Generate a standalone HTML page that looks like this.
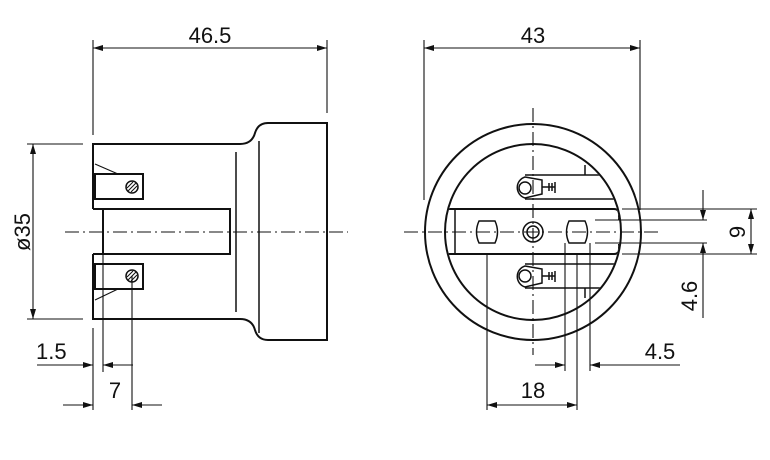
<!DOCTYPE html>
<html><head><style>body{margin:0;background:#fff}svg{display:block}text{font-family:"Liberation Sans",Arial,sans-serif;font-size:22px;fill:#111}</style></head><body>
<svg width="770" height="460" viewBox="0 0 770 460" xmlns="http://www.w3.org/2000/svg">
<defs>
<marker id="a" viewBox="0 0 10 6" refX="10" refY="3" markerWidth="10" markerHeight="6" orient="auto-start-reverse" markerUnits="userSpaceOnUse"><path d="M0,0L10,3L0,6z" fill="#111"/></marker>
<clipPath id="c"><circle cx="533" cy="232" r="87"/></clipPath>
</defs>
<g fill="none" stroke="#111" stroke-width="1.1">
<g stroke-width="2">
<path d="M93,209V144H240Q252,144 255,133Q258,123 268,123H327V340H268Q258,340 255,330Q252,319 240,319H93V254"/>
<path d="M93,209H230V254H93"/>
<rect x="95" y="174" width="48" height="25"/>
<rect x="95" y="264" width="48" height="25"/>
</g>
<line x1="103" y1="209" x2="103" y2="254" stroke-width="2"/>
<line x1="236" y1="152" x2="236" y2="312" stroke-width="1.5"/>
<line x1="259" y1="141" x2="259" y2="333" stroke-width="1.5"/>
<line x1="95" y1="164" x2="118" y2="174"/>
<line x1="95" y1="300" x2="118" y2="289"/>
<circle cx="132" cy="187" r="6" stroke-width="1.5"/><line x1="128" y1="191" x2="136" y2="183"/><line x1="127" y1="188" x2="133" y2="182"/><line x1="131" y1="192" x2="137" y2="186"/>
<circle cx="132" cy="276" r="6" stroke-width="1.5"/><line x1="128" y1="280" x2="136" y2="272"/><line x1="127" y1="277" x2="133" y2="271"/><line x1="131" y1="281" x2="137" y2="275"/>
<line x1="65" y1="232" x2="348" y2="232" stroke-dasharray="14,4,2,4"/>
<line x1="93" y1="40" x2="93" y2="135"/><line x1="327" y1="40" x2="327" y2="113"/>
<line x1="93" y1="48" x2="327" y2="48" marker-start="url(#a)" marker-end="url(#a)"/>
<line x1="27" y1="144" x2="83" y2="144"/><line x1="27" y1="319" x2="83" y2="319"/>
<line x1="33" y1="144" x2="33" y2="319" marker-start="url(#a)" marker-end="url(#a)"/>
<line x1="93" y1="328" x2="93" y2="410"/><line x1="103" y1="254" x2="103" y2="372"/><line x1="132" y1="276" x2="132" y2="410"/>
<line x1="37" y1="365" x2="93" y2="365" marker-end="url(#a)"/><line x1="133" y1="365" x2="103" y2="365" marker-end="url(#a)"/>
<line x1="63" y1="405" x2="93" y2="405" marker-end="url(#a)"/><line x1="162" y1="405" x2="132" y2="405" marker-end="url(#a)"/>
<circle cx="533" cy="232" r="108" stroke-width="2"/>
<circle cx="533" cy="232" r="88" stroke-width="2"/>
<g clip-path="url(#c)">
<path d="M440,209H614Q619,209 619,214V220M440,254H614Q619,254 619,249V244" stroke-width="2"/>
<g stroke-width="1.5">
<path d="M525,175H640M525,199H640M585,165V175"/>
<path d="M525,264H640M525,288H640M585,288V298"/>
</g>
</g>
<line x1="455" y1="209" x2="455" y2="254" stroke-width="1.5"/>
<path d="M479,221H495Q500,232 495,243H479Q474,232 479,221Z" stroke-width="1.5"/>
<path d="M569,221H585Q590,232 585,243H569Q564,232 569,221Z" stroke-width="1.5"/>
<circle cx="533" cy="232" r="10" stroke-width="1.5"/><circle cx="533" cy="232" r="6" stroke-width="1.5"/>
<g stroke-width="1.5">
<path d="M525,177L542,180V194L525,198A11,11 0 0 1 525,177Z"/><circle cx="525" cy="188" r="6"/>
<path d="M542,187H555M549,183V191M552,183V191M555,182V193"/>
<path d="M525,266L542,269V283L525,287A11,11 0 0 1 525,266Z"/><circle cx="525" cy="276" r="6"/>
<path d="M542,276H555M549,272V280M552,272V280M555,271V282"/>
</g>
<line x1="404" y1="232" x2="660" y2="232" stroke-dasharray="14,4,2,4"/>
<line x1="533" y1="108" x2="533" y2="355" stroke-dasharray="14,4,2,4"/>
<line x1="424" y1="40" x2="424" y2="200"/><line x1="640" y1="40" x2="640" y2="210"/>
<line x1="424" y1="48" x2="640" y2="48" marker-start="url(#a)" marker-end="url(#a)"/>
<line x1="622" y1="209" x2="757" y2="209"/><line x1="622" y1="254" x2="757" y2="254"/>
<line x1="751" y1="209" x2="751" y2="254" marker-start="url(#a)" marker-end="url(#a)"/>
<line x1="595" y1="220" x2="707" y2="220"/><line x1="595" y1="243" x2="707" y2="243"/>
<line x1="703" y1="190" x2="703" y2="220" marker-end="url(#a)"/><line x1="703" y1="318" x2="703" y2="243" marker-end="url(#a)"/>
<line x1="565" y1="243" x2="565" y2="371"/><line x1="590" y1="243" x2="590" y2="371"/>
<line x1="535" y1="365" x2="565" y2="365" marker-end="url(#a)"/><line x1="680" y1="365" x2="590" y2="365" marker-end="url(#a)"/>
<line x1="487" y1="254" x2="487" y2="410"/><line x1="577" y1="254" x2="577" y2="410"/>
<line x1="487" y1="405" x2="577" y2="405" marker-start="url(#a)" marker-end="url(#a)"/>
</g>
<text x="210" y="43" text-anchor="middle">46.5</text>
<text x="533" y="43" text-anchor="middle">43</text>
<text x="36" y="359">1.5</text>
<text x="115" y="398" text-anchor="middle">7</text>
<text x="533" y="398" text-anchor="middle">18</text>
<text x="660" y="359" text-anchor="middle">4.5</text>
<text transform="translate(30,232) rotate(-90)" text-anchor="middle">ø35</text>
<text transform="translate(745,232) rotate(-90)" text-anchor="middle">9</text>
<text transform="translate(697,296) rotate(-90)" text-anchor="middle">4.6</text>
</svg>
</body></html>
